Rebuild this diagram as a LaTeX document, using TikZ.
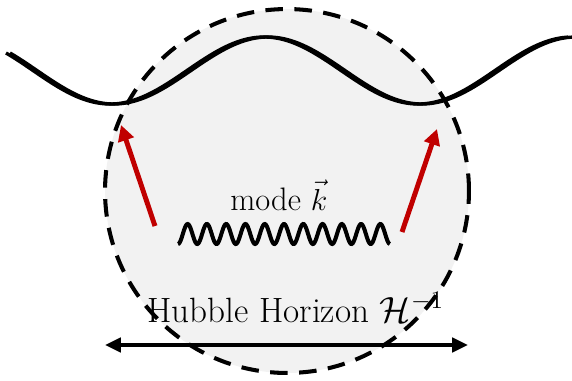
\documentclass[tikz,border=0pt]{standalone}
\usetikzlibrary{arrows.meta}
\definecolor{horizonfill}{HTML}{F2F2F2}
\definecolor{modered}{HTML}{C00000}
\tikzset{
  push/.style={draw=modered, line width=2.8pt, -{Triangle[length=9pt,width=9pt]}},
  span/.style={line width=2.8pt, {Triangle[length=9pt,width=8pt]}-{Triangle[length=9pt,width=8pt]}},
  label/.style={inner sep=0pt, font=\fontsize{18.5}{22}\selectfont}
}
\begin{document}
\begin{tikzpicture}[x=0.02cm, y=-0.02cm]
		\useasboundingbox (0,0) rectangle (572,380);
		% horizon
		\node (hor) [circle, minimum size=7.28cm, fill=horizonfill, inner sep=0pt] at (287,191) {};
		\draw[line width=2.3pt, dash pattern=on 10pt off 6.5pt] (hor.center) circle[radius=3.64cm];
		% long wave, drawn twice for the uneven stroke
		\foreach \s in {0,4}
			\draw[line width=1.9pt, domain=10:572, samples=120, smooth] plot ({\x-\s}, {70.5-33.5*cos((\x-268)/308*360)});
		% short mode
		\draw[line width=2.3pt, domain=0:1, samples=240, smooth] plot ({178+212*\x}, {234+10*cos(3960*\x)});
		\node (mode) [label, anchor=base west] at (230,210) {mode $\vec{k}$};
		\node (hub) [label, font=\fontsize{20}{24}\selectfont, anchor=base west] at (147,322) {Hubble Horizon $\mathcal{H}^{-1}$};
		\coordinate (l0) at (155,226);
		\coordinate (l1) at (121,125);
		\coordinate (r0) at (402,232);
		\coordinate (r1) at (437,129);
		\coordinate (a0) at (105,345);
		\coordinate (a1) at (468,345);
		\draw[push] (l0) -- (l1);
		\draw[push] (r0) -- (r1);
		\draw[span] (a0) -- (a1);
	\end{tikzpicture}
\end{document}
